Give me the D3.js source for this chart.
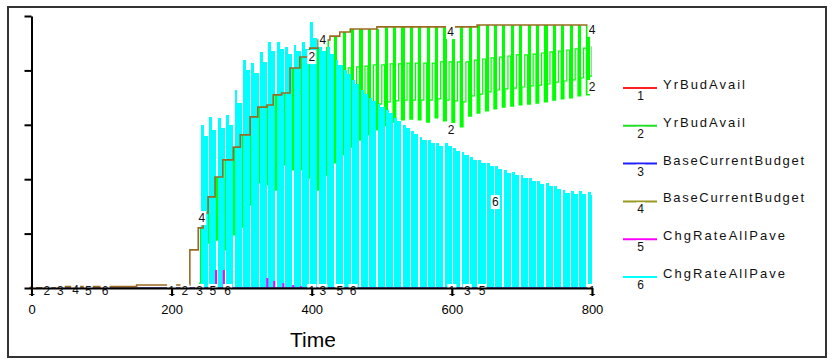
<!DOCTYPE html>
<html><head><meta charset="utf-8">
<script src="https://cdn.jsdelivr.net/npm/d3@7"></script>
<style>body{margin:0;background:#fff;} svg{display:block;font-family:"Liberation Sans",Arial,sans-serif;}</style>
</head><body><svg id="c" width="833" height="360"></svg>
<script>
// ---- data ----
const timeTicks = [0, 200, 400, 600, 800];
const valueTicks = [0, 20, 40, 60, 80, 100];
const seriesNames = ["YrBudAvail", "YrBudAvail", "BaseCurrentBudget", "BaseCurrentBudget", "ChgRateAllPave", "ChgRateAllPave"];
const seriesIds = ["1", "2", "3", "4", "5", "6"];
const seriesColors = ["#ff2020", "#22dd22", "#2020ff", "#999922", "#ff00ff", "#00ffff"];

// period start times of the yearly oscillation (sample times)
const periodStart = d3.range(240, 800, 12);

// BaseCurrentBudget (series 4), step change points
const budgetT = [0, 45, 150, 226, 238, 245, 252, 262, 273, 288, 298, 312, 323, 336, 345, 357, 369, 383, 397, 409, 426, 440, 455, 493, 636, 800];
const budgetV = [0, 0.5, 1.1, 14.0, 22.1, 27.6, 33.5, 40.8, 47.1, 51.8, 56.3, 62.9, 66.5, 67.3, 71.0, 71.7, 80.9, 84.9, 88.2, 91.2, 92.6, 94.1, 95.2, 96.0, 96.7, 96.7];

// YrBudAvail (series 2) per period: low point, then two intermediate levels
const yrLow = [1.8,16.5,17.6,14.0,19.5,22.4,30.5,38.6,37.9,36.0,45.2,43.4,43.4,40.4,36.0,41.5,46.0,48.9,51.8,54.4,56.3,58.1,59.6,61.0,61.8,62.1,61.8,61.0,62.5,61.4,60.3,59.2,63.2,64.3,65.1,65.8,66.5,66.9,67.3,67.6,68.0,68.4,69.1,69.5,69.9,70.6,71.0];
const yrMidA = [8.5,22.1,25.0,25.0,30.5,32.4,39.7,47.1,47.1,47.1,54.4,56.3,58.1,58.1,59.9,61.8,63.6,64.7,65.4,66.2,66.9,67.6,68.4,68.8,69.1,69.1,69.1,69.1,69.5,69.1,68.8,68.4,70.6,71.3,72.1,72.8,73.2,73.5,73.9,74.3,74.6,75.0,75.7,76.1,76.5,77.2,77.9];
const yrMidB = [17.6,28.7,36.0,39.7,43.4,47.1,54.4,59.9,59.9,61.8,65.4,71.0,74.6,76.5,78.3,79.4,80.1,80.9,81.3,81.6,82.0,82.0,82.4,82.4,82.7,82.7,82.7,82.7,83.1,83.1,83.1,83.1,83.8,84.2,84.6,84.9,85.3,85.7,85.7,86.0,86.4,86.8,87.1,87.5,87.9,88.2,88.6];

// ChgRateAllPave (series 6) per period: two levels
const chgA = [59.9,62.9,62.5,63.6,72.8,83.8,82.7,86.8,90.4,90.4,88.6,89.3,90.4,97.8,90.4,88.6,83.8,80.1,76.5,72.8,69.9,67.6,65.4,62.5,59.9,57.7,55.5,54.4,53.3,53.3,51.5,50.0,48.2,47.1,46.0,44.9,43.4,42.6,41.5,40.4,39.3,38.6,37.5,36.0,35.7,35.7,35.3];
const chgB = [56,58,59,60,68,80,79,83,87,88,86,87,88,92,87,86,82,78.5,75,71.5,68.7,66.5,64.3,61.4,58.8,56.6,54.4,53.3,52.2,52.2,50.4,48.9,47.1,46.0,44.9,43.8,42.3,41.5,40.4,39.3,38.2,37.5,36.4,34.9,34.6,34.6,34.2];

// ChgRateAllPave (series 5) spikes
const spikeT = [262, 273, 335, 345, 358, 372, 383];
const spikeV = [6.6, 6.6, 3.7, 2.6, 1.8, 1.1, 0.7];

// line number markers
const markerLabel = ["1","2","3","4","5","6", "1","2","3","5","6","4", "1","3","5","6","2","4", "1","3","5","2","4","6", "1","2","4"];
const markerT = [0,22,41,63,81,105, 200,219,240,259,280,243, 400,416,440,459,400,416, 600,622,643,599,598,662, 800,800,800];
const markerV = [-1.1,-1.1,-1.1,-0.6,-1.1,-1.1, -1.1,-1.1,-1.1,-1.1,-1.1,25.7, -1.1,-1.1,-1.1,-1.1,84.9,91.2, -1.1,-1.1,-1.1,58.1,94.1,31.6, -1.1,73.9,94.9];

// ---- chart ----
const svg = d3.select("#c");
const x = d3.scaleLinear([0, 800], [31.5, 592]);
const y = d3.scaleLinear([0, 100], [288, 16]);

svg.append("rect").attr("x", 8).attr("y", 7).attr("width", 818).attr("height", 350)
  .attr("fill", "#fff").attr("stroke", "#333").attr("stroke-width", 2);

svg.append("clipPath").attr("id", "plot").append("rect")
  .attr("x", x(0)).attr("y", 10).attr("width", x(800) - x(0)).attr("height", y(0) - 10);

const plot = svg.append("g").attr("clip-path", "url(#plot)");

const budgetAt = t => budgetV[Math.max(0, d3.bisectRight(budgetT, t) - 1)];

// green strips (series 2)
plot.selectAll("rect.strip").data(periodStart).join("rect").attr("class", "strip")
  .attr("x", d => x(d)).attr("width", d => x(d + 4.5) - x(d))
  .attr("y", d => y(budgetAt(d))).attr("height", (d, k) => y(yrLow[k]) - y(budgetAt(d)))
  .attr("fill", "#00ff00").attr("shape-rendering", "crispEdges");

// green thin path
const yrPts = [{t: 0, v: 0}, {t: 228, v: 0}];
periodStart.forEach((t, k) => {
  yrPts.push({t: t, v: yrLow[k]});
  yrPts.push({t: t + 4, v: yrMidA[k]});
  yrPts.push({t: t + 8, v: yrMidB[k]});
});
yrPts.push({t: 804, v: yrMidB[yrMidB.length - 1]});
plot.append("path").datum(yrPts)
  .attr("d", d3.line().x(d => x(d.t)).y(d => y(d.v)).curve(d3.curveStepAfter))
  .attr("fill", "none").attr("stroke", "#00ff00").attr("stroke-width", 1.2);

// cyan pulses (series 6), one drop to zero per period
const gap = 2;
const chgPts = [];
periodStart.forEach((t, k) => {
  chgPts.push({t: t, v: 0});
  chgPts.push({t: t + gap, v: chgA[k]});
  chgPts.push({t: t + 6, v: chgB[k]});
});
chgPts.push({t: 804, v: 0});
plot.append("path").datum(chgPts)
  .attr("d", d3.area().x(d => x(d.t)).y0(y(0)).y1(d => y(d.v)).curve(d3.curveStepAfter))
  .attr("fill", seriesColors[5]).attr("shape-rendering", "crispEdges");

// magenta spikes
plot.selectAll("rect.spike").data(spikeT).join("rect").attr("class", "spike")
  .attr("x", d => x(d)).attr("width", d => x(d + 3) - x(d))
  .attr("y", (d, i) => y(spikeV[i])).attr("height", (d, i) => y(0) - y(spikeV[i]))
  .attr("fill", seriesColors[4]);

// zero series 1 and 3
[0, 2].forEach(i => {
  plot.append("path").datum([0, 800])
    .attr("d", d3.line().x(d => x(d)).y(y(0)))
    .attr("stroke", seriesColors[i]).attr("stroke-width", 1);
});

// brown budget line
const budPts = budgetT.map((t, i) => ({t: t, v: budgetV[i]}));
plot.append("path").datum(budPts)
  .attr("d", d3.line().x(d => x(d.t)).y(d => y(d.v)).curve(d3.curveStepAfter))
  .attr("fill", "none").attr("stroke", "#9b6a1f").attr("stroke-width", 1.6);

// markers
const mk = svg.selectAll("g.mk").data(markerLabel).join("g").attr("class", "mk")
  .attr("transform", (d, i) => `translate(${x(markerT[i])},${y(markerV[i])})`);
mk.append("rect").attr("x", -4.5).attr("y", -7).attr("width", 9).attr("height", 14).attr("fill", "#fff");
mk.append("text").text(d => d).attr("text-anchor", "middle").attr("dy", "0.36em")
  .attr("font-size", 12).attr("fill", "#111");

// axes
const ax = svg.append("g").attr("transform", `translate(0,${y(0)})`)
  .call(d3.axisBottom(x).tickValues(timeTicks).tickSize(8).tickSizeOuter(0).tickPadding(9));
ax.selectAll("path,line").attr("stroke", "#000").attr("stroke-width", 2);
ax.selectAll("text").attr("font-size", 13).attr("fill", "#000")
  .attr("font-family", "Liberation Sans, Arial, sans-serif");

const ay = svg.append("g").attr("transform", `translate(${x(0)},0)`)
  .call(d3.axisLeft(y).tickValues(valueTicks).tickSize(7).tickSizeOuter(0).tickFormat(""));
ay.selectAll("path,line").attr("stroke", "#000").attr("stroke-width", 2);

// axis title, clipped as in the reference
svg.append("clipPath").attr("id", "tclip").append("rect").attr("x", 0).attr("y", 0).attr("width", 335).attr("height", 360);
svg.append("text").attr("clip-path", "url(#tclip)").attr("x", 290).attr("y", 347)
  .attr("font-size", 21).attr("fill", "#000").text("Time");

// legend
const lg = svg.selectAll("g.lg").data(seriesNames).join("g").attr("class", "lg")
  .attr("transform", (d, i) => `translate(623,${88 + i * 37.8})`);
lg.append("line").attr("x1", 0).attr("x2", 34).attr("y1", 0).attr("y2", 0)
  .attr("stroke", (d, i) => seriesColors[i]).attr("stroke-width", 2);
lg.append("rect").attr("x", 13).attr("y", 1).attr("width", 9).attr("height", 12).attr("fill", "#fff");
lg.append("text").text((d, i) => seriesIds[i]).attr("x", 17.5).attr("y", 12)
  .attr("text-anchor", "middle").attr("font-size", 12).attr("fill", "#111");
const nameWidth = {"YrBudAvail": 82, "BaseCurrentBudget": 141, "ChgRateAllPave": 122};
lg.append("text").text(d => d).attr("x", 40).attr("y", 1)
  .attr("font-size", 13).attr("fill", "#111")
  .attr("textLength", d => nameWidth[d]).attr("lengthAdjust", "spacing");
</script></body></html>
